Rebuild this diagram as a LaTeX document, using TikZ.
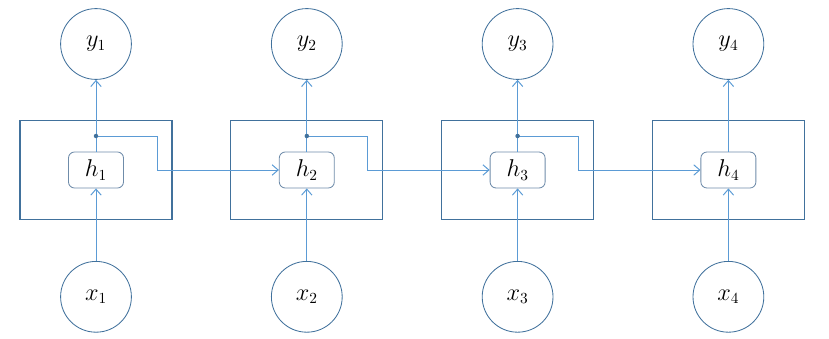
\documentclass[tikz,border=0pt]{standalone}
\usetikzlibrary{arrows.meta,positioning}
\definecolor{CellBorder}{HTML}{41719C}
\definecolor{FlowLine}{HTML}{5B9BD5}
\definecolor{UnitBorder}{HTML}{6F8CAA}
\begin{document}
\begin{tikzpicture}[font=\fontsize{16}{18}\selectfont,
 >={Straight Barb[length=1.5mm,width=2.6mm]},
 cell/.style={draw=CellBorder,line width=0.8pt,minimum width=3.8cm,minimum height=2.475cm},
 unit/.style={draw=UnitBorder,fill=white,rounded corners=0.15cm,line width=0.6pt,
  minimum width=1.375cm,minimum height=0.9cm},
 io/.style={draw=CellBorder,circle,line width=0.6pt,minimum size=1.77cm,inner sep=0pt},
 flow/.style={->,draw=FlowLine,line width=0.7pt}]
\useasboundingbox (0,0) rectangle (20.725,8.45);
% cells
\node[cell] (c1) at (2.4,4.2) {};
\node[cell] (c2) at (7.67,4.2) {};
\node[cell] (c3) at (12.94,4.2) {};
\node[cell] (c4) at (18.21,4.2) {};
% hidden states
\node[unit] (h1) at (2.4,4.2) {$h_1$};
\node[unit] (h2) at (7.67,4.2) {$h_2$};
\node[unit] (h3) at (12.94,4.2) {$h_3$};
\node[unit] (h4) at (18.21,4.2) {$h_4$};
% outputs and inputs
\node[io] (y1) at (2.4,7.35) {$y_1$};
\node[io] (y2) at (7.67,7.35) {$y_2$};
\node[io] (y3) at (12.94,7.35) {$y_3$};
\node[io] (y4) at (18.21,7.35) {$y_4$};
\node[io] (x1) at (2.4,1.03) {$x_1$};
\node[io] (x2) at (7.67,1.03) {$x_2$};
\node[io] (x3) at (12.94,1.03) {$x_3$};
\node[io] (x4) at (18.21,1.03) {$x_4$};
% split points
\coordinate (s1) at (2.4,5.05);
\coordinate (s2) at (7.67,5.05);
\coordinate (s3) at (12.94,5.05);
\draw[flow] (x1) -- (h1);
\draw[flow] (x2) -- (h2);
\draw[flow] (x3) -- (h3);
\draw[flow] (x4) -- (h4);
\draw[flow] (h1) -- (y1);
\draw[flow] (h2) -- (y2);
\draw[flow] (h3) -- (y3);
\draw[flow] (h4) -- (y4);
\draw[flow] (s1) -- ++(1.525,0) |- (h2);
\draw[flow] (s2) -- ++(1.525,0) |- (h3);
\draw[flow] (s3) -- ++(1.525,0) |- (h4);
\fill[CellBorder] (s1) circle (1.6pt);
\fill[CellBorder] (s2) circle (1.6pt);
\fill[CellBorder] (s3) circle (1.6pt);
\end{tikzpicture}
\end{document}
